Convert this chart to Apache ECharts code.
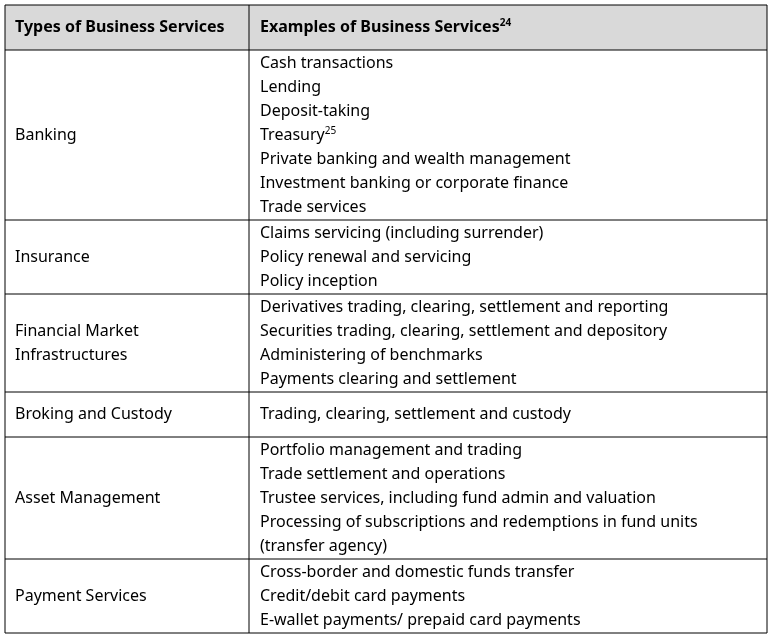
<!DOCTYPE html>
<html><head><meta charset="utf-8">
<script src="https://cdn.jsdelivr.net/npm/echarts@6/dist/echarts.min.js"></script>
<style>html,body{margin:0;padding:0;background:#fff}#c{width:773px;height:636px}</style>
</head><body><div id="c"></div>
<script>
const headers = ["Types of Business Services", "Examples of Business Services"];
const headerSup = "24";
const types = ["Banking", "Insurance", "Financial Market\nInfrastructures", "Broking and Custody", "Asset Management", "Payment Services"];
const examples = [
  ["Cash transactions","Lending","Deposit-taking","Treasury{s|25}","Private banking and wealth management","Investment banking or corporate finance","Trade services"],
  ["Claims servicing (including surrender)","Policy renewal and servicing","Policy inception"],
  ["Derivatives trading, clearing, settlement and reporting","Securities trading, clearing, settlement and depository","Administering of benchmarks","Payments clearing and settlement"],
  ["Trading, clearing, settlement and custody"],
  ["Portfolio management and trading","Trade settlement and operations","Trustee services, including fund admin and valuation","Processing of subscriptions and redemptions in fund units","(transfer agency)"],
  ["Cross-border and domestic funds transfer","Credit/debit card payments","E-wallet payments/ prepaid card payments"]
];
(function(){
const chart = echarts.init(document.getElementById('c'));
const L=5, R=767, M=249, T0=5, headH=45, lineH=24;
const font='Noto Sans', fs=16;
const g=[];
const rich={s:{fontSize:10,fontFamily:font,verticalAlign:'top',padding:[0,0,8,0]}};
g.push({type:'rect',shape:{x:L,y:T0,width:R-L,height:headH},style:{fill:'#d9d9d9'}});
g.push({type:'text',x:15,y:T0+headH/2,style:{text:headers[0],font:'bold '+fs+'px '+font,fill:'#000',verticalAlign:'middle'}});
g.push({type:'text',x:260,y:T0+headH/2,style:{text:headers[1]+'{s|'+headerSup+'}',font:'bold '+fs+'px '+font,fill:'#000',verticalAlign:'middle',rich:{s:{fontSize:10,fontWeight:'bold',fontFamily:font,verticalAlign:'top',padding:[0,0,8,0]}}}});
let y=T0+headH;
const hs=[y];
types.forEach((t,i)=>{
  const n=examples[i].length;
  const h=Math.max(n*lineH+2,45);
  g.push({type:'text',x:15,y:y+h/2,style:{text:t,font:fs+'px '+font,fill:'#000',verticalAlign:'middle',lineHeight:lineH}});
  const y0=y+h/2-(n-1)*lineH/2;
  examples[i].forEach((e,j)=>{
    g.push({type:'text',x:260,y:y0+j*lineH,style:{text:e,font:fs+'px '+font,fill:'#000',verticalAlign:'middle',rich:rich}});
  });
  y+=h; hs.push(y);
});
hs.forEach(yy=>g.push({type:'line',shape:{x1:L,y1:yy,x2:R,y2:yy},style:{stroke:'#000',lineWidth:1}}));
g.push({type:'line',shape:{x1:L,y1:T0,x2:R,y2:T0},style:{stroke:'#000',lineWidth:1}});
[L,M,R].forEach(xx=>g.push({type:'line',shape:{x1:xx,y1:T0,x2:xx,y2:y},style:{stroke:'#000',lineWidth:1}}));
chart.setOption({animation:false,graphic:g});
})();
</script></body></html>
